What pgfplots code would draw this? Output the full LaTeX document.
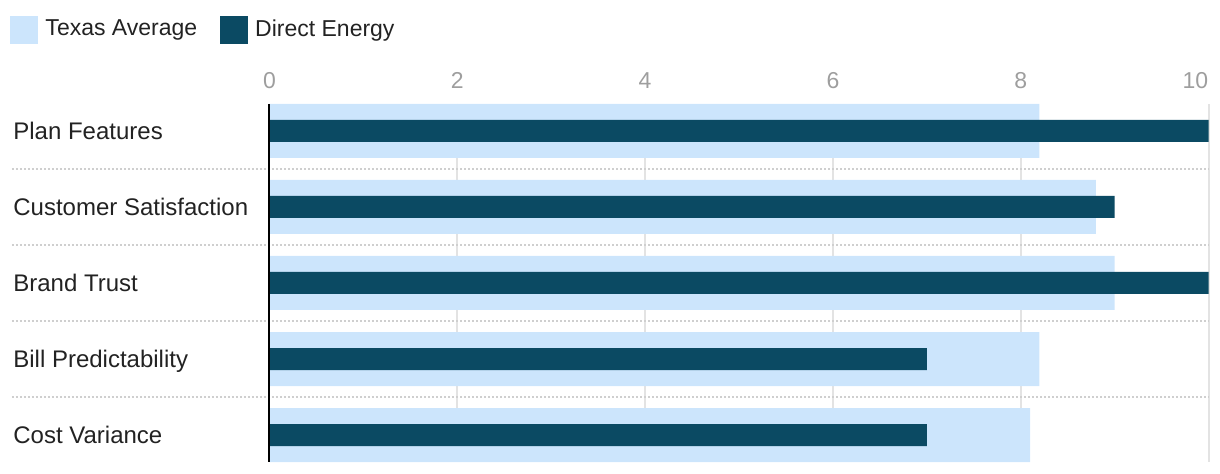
\documentclass[border=0pt]{standalone}
\usepackage{pgfplots}
\pgfplotsset{compat=1.18}
\usepackage{fontspec}
\setmainfont{Liberation Sans}
\definecolor{ta}{HTML}{CCE5FC}
\definecolor{de}{HTML}{0B4A63}
\definecolor{tickc}{HTML}{9E9E9E}
\definecolor{txt}{HTML}{222222}
\definecolor{gridc}{HTML}{E3E3E3}
\definecolor{sepc}{HTML}{CFCFCF}
\begin{document}
\begin{tikzpicture}
\useasboundingbox (-134.75pt,-6pt) rectangle (475.25pt,231pt);
\begin{axis}[
  at={(0pt,0pt)}, anchor=south west, scale only axis,
  width=469.5pt, height=179pt,
  clip=false,
  xbar, bar shift=0pt,
  xmin=0, xmax=10, ymin=-0.355, ymax=4.355, y dir=reverse,
  axis line style={draw=none},
  major tick length=0pt,
  xtick={0,2,4,6,8},
  extra x ticks={10},
  extra x tick style={grid=major, xticklabel style={anchor=base east}},
  xticklabel pos=upper,
  /pgf/number format/assume math mode=true,
  xticklabel style={font=\fontsize{11.5}{12}\selectfont, text=tickc, anchor=base, inner sep=0pt, yshift=7.5pt},
  xmajorgrids, grid style={draw=gridc, line width=1pt},
  ytick={0,1,2,3,4},
  yticklabels={Plan Features, Customer Satisfaction, Brand Trust, Bill Predictability, Cost Variance},
  yticklabel style={font=\fontsize{12}{14}\selectfont, text=txt, anchor=base west, inner sep=0pt, xshift=-128.25pt, yshift=-4.3pt},
  legend style={at={(axis description cs:-0.27583,1.24720)}, anchor=north west, draw=none, fill=none,
    inner sep=0pt, outer sep=0pt, font=\fontsize{11.5}{13}\selectfont, text=txt,
    cells={inner sep=1.75pt},
    /tikz/every even column/.append style={column sep=9.5pt}},
  legend columns=2,
  legend image code/.code={\fill[#1] (0pt,-7pt) rectangle (14pt,7pt); \path (15.5pt,0pt);},
]
\addplot[fill=ta, draw=none, bar width=27pt] coordinates {(8.2,0) (8.8,1) (9.0,2) (8.2,3) (8.1,4)};
\addlegendentry{Texas Average}
\addplot[fill=de, draw=none, bar width=11pt] coordinates {(10,0) (9.0,1) (10,2) (7.0,3) (7.0,4)};
\addlegendentry{Direct Energy}
\pgfplotsinvokeforeach{0.5,1.5,2.5,3.5}{
  \draw[sepc, line width=1pt, dash pattern=on 1pt off 1pt] (axis cs:0,#1) ++(-128.75pt,0pt) -- (axis cs:10,#1);
}
\draw[black, line width=1pt] (axis cs:0,-0.355) -- (axis cs:0,4.355);
\end{axis}
\end{tikzpicture}
\end{document}
